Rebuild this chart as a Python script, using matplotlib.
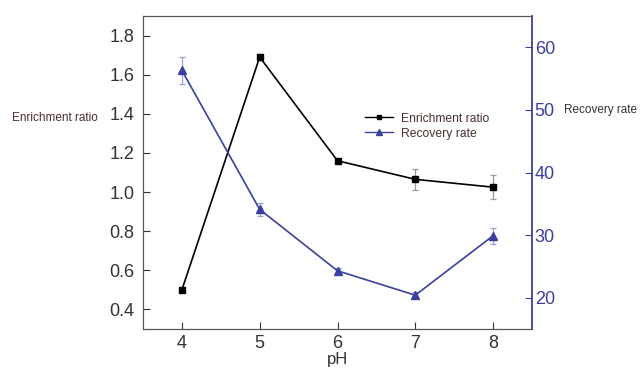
import numpy as np
import matplotlib
matplotlib.use('Agg')
import matplotlib.pyplot as plt
from matplotlib.lines import Line2D

plt.rcParams['font.family'] = ['Liberation Sans', 'DejaVu Sans']

# data
ph = [4, 5, 6, 7, 8]
enrich = [0.50, 1.69, 1.16, 1.065, 1.025]
enrich_err = [0.012, 0.015, 0.012, 0.053, 0.06]
recov = [56.3, 34.1, 24.3, 20.4, 29.9]
recov_err = [2.2, 1.1, 0.5, 0.5, 1.3]

blue = '#3b40a0'
dark = '#333333'

fig = plt.figure(figsize=(6.41, 3.69), dpi=100)
ax = fig.add_axes([143/641, 1-329/369, (532-143)/641, (329-16)/369])
ax2 = ax.twinx()

ax.errorbar(ph, enrich, yerr=enrich_err, color='black', marker='s', ms=5,
            lw=1.2, ecolor='#999999', elinewidth=0.9, capsize=2.5, capthick=0.9,
            zorder=3)
ax2.errorbar(ph, recov, yerr=recov_err, color=blue, marker='^', ms=6,
             lw=1.2, ecolor='#a09ccc', elinewidth=0.9, capsize=2.5, capthick=0.9,
             zorder=3)

ax.set_xlim(3.5, 8.5)
ax.set_ylim(0.3, 1.9)
ax2.set_ylim(15, 65)
ax.set_xticks(ph)
ax.set_yticks(np.arange(0.4, 1.81, 0.2))
ax2.set_yticks([20, 30, 40, 50, 60])

ax.tick_params(axis='y', direction='in', length=5, labelsize=13, colors=dark, pad=6)
ax.tick_params(axis='x', direction='in', length=5, labelsize=13, colors=dark, pad=4)
ax2.tick_params(axis='y', direction='in', length=5, labelsize=13, colors=blue, pad=2)

for s in ['left', 'bottom', 'top']:
    ax.spines[s].set_color('#555555')
    ax2.spines[s].set_color('#555555')
ax2.spines['right'].set_color(blue)
ax2.spines['right'].set_linewidth(1.3)
ax.spines['right'].set_visible(False)

ax.set_xlabel('pH', fontsize=12, color=dark, labelpad=0)

fig.text(12/641, 1-118/369, 'Enrichment ratio', fontsize=8.5, color='#4a3030', va='center')
fig.text(564/641, 1-110/369, 'Recovery rate', fontsize=8.5, color='#333333', va='center')

handles = [Line2D([], [], color='black', marker='s', ms=3.5, lw=1.0),
           Line2D([], [], color=blue, marker='^', ms=4, lw=1.0)]
leg = ax2.legend(handles, ['Enrichment ratio', 'Recovery rate'], loc='upper left',
                 bbox_to_anchor=(0.543, 0.726), frameon=False, fontsize=8.7,
                 handlelength=2.3, handletextpad=0.7, labelspacing=0.25)
for t in leg.get_texts():
    t.set_color('#4a3030')

fig.savefig('out.png', dpi=100)
